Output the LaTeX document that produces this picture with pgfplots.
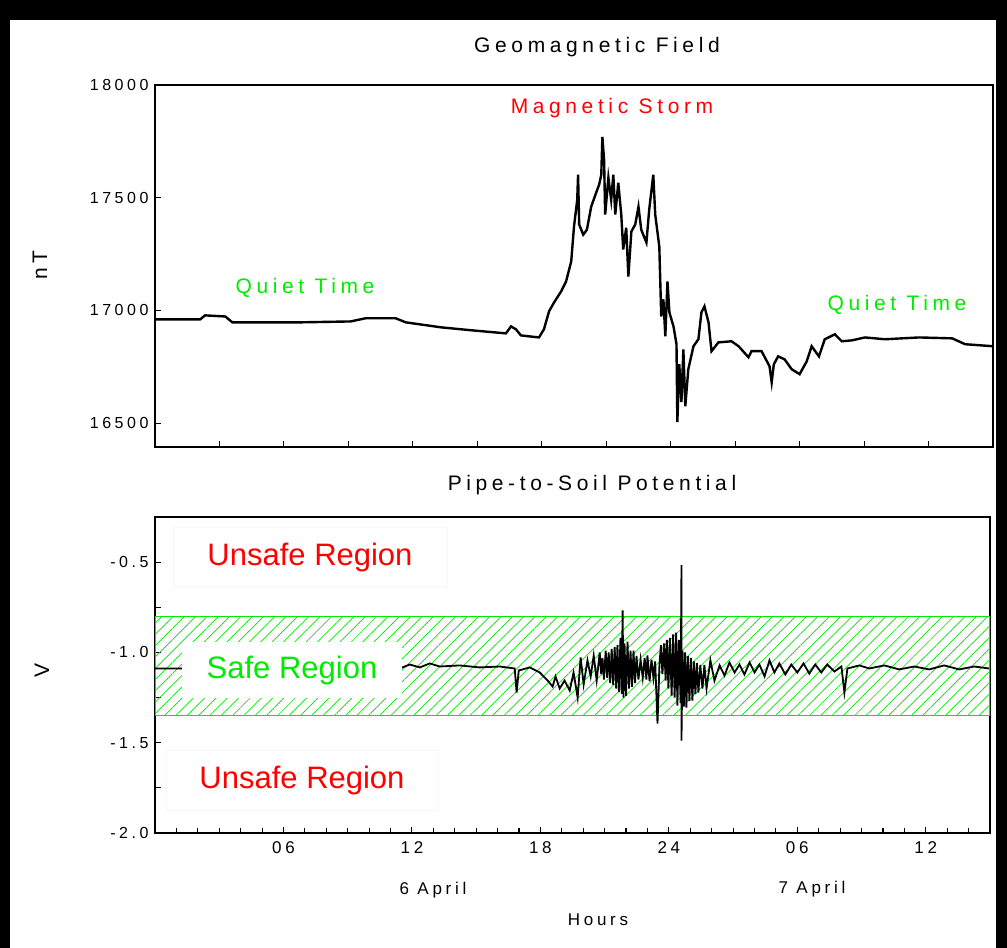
\documentclass[border=0pt]{standalone}
\usepackage{fontspec}
\setmainfont{Liberation Sans}
\newfontfamily\wf{Liberation Sans}[LetterSpace=22]
\usepackage{pgfplots}
\pgfplotsset{compat=1.18}
\usetikzlibrary{patterns.meta}
\definecolor{pgreen}{RGB}{0,235,0}
\definecolor{pred}{RGB}{255,0,0}
\newcommand\tickfont{\fontsize{16}{16}\selectfont\wf}
\newcommand\xtfont{\fontsize{17}{17}\selectfont\wf}
\newcommand\labfont{\fontsize{21}{21}\selectfont\wf}
\newcommand\regfont{\fontsize{31}{31}\selectfont}

\pgfplotstableread{
h nT
0 16960
2.1 16960
2.33 16978
3.27 16973
3.6 16947
6.77 16947
9.1 16951
9.8 16965
11.2 16965
11.67 16947
13.3 16925
14.7 16912
16.33 16898
16.57 16929
16.8 16916
17.03 16889
17.87 16880
18.1 16916
18.34 16996
18.57 17035
18.9 17084
19.13 17128
19.37 17217
19.5 17372
19.65 17491
19.69 17602
19.74 17381
19.93 17336
20.1 17358
20.3 17460
20.53 17522
20.67 17558
20.77 17602
20.82 17770
20.9 17668
20.95 17425
21.1 17589
21.23 17491
21.33 17602
21.42 17425
21.56 17566
21.7 17425
21.79 17270
21.93 17367
22.03 17150
22.17 17350
22.35 17381
22.5 17460
22.63 17358
22.87 17301
23.0 17447
23.19 17602
23.28 17425
23.47 17283
23.56 16973
23.66 17049
23.75 16885
23.85 17128
23.94 16991
24.13 16929
24.27 16850
24.31 16504
24.4 16761
24.5 16593
24.59 16827
24.68 16575
24.82 16739
25.06 16841
25.29 16872
25.43 16991
25.57 17018
25.76 16947
25.9 16819
26.22 16858
26.83 16863
27.16 16841
27.62 16792
27.76 16819
28.23 16819
28.6 16752
28.7 16681
28.8 16761
29.0 16796
29.3 16783
29.63 16739
30.0 16717
30.33 16774
30.56 16841
30.9 16796
31.17 16872
31.64 16894
31.96 16863
32.43 16867
33.04 16880
33.97 16872
35.56 16880
37.1 16876
37.7 16850
39.0 16841
}\geomag

\pgfplotstableread{
h V
0 -1.089
11.43 -1.089
11.9 -1.067
12.37 -1.083
12.83 -1.061
13.3 -1.078
14.23 -1.072
15.17 -1.083
16.1 -1.078
16.8 -1.089
16.89 -1.222
16.99 -1.1
17.5 -1.083
17.97 -1.111
18.34 -1.156
18.57 -1.189
18.71 -1.133
18.9 -1.2
19.13 -1.156
19.37 -1.211
19.55 -1.111
19.74 -1.25
19.88 -1.028
20.02 -1.178
20.2 -1.044
20.35 -1.133
20.49 -1.017
20.63 -1.156
20.77 -1.0
20.84 -1.12
20.9 -1.03
20.97 -1.15
21.05 -0.99
21.12 -1.14
21.19 -1.0
21.26 -1.17
21.33 -0.98
21.40 -1.18
21.47 -0.97
21.54 -1.2
21.6 -0.96
21.67 -1.22
21.74 -0.92
21.80 -1.23
21.84 -0.767
21.88 -1.25
21.93 -0.95
22.0 -1.24
22.07 -0.94
22.14 -1.2
22.21 -0.99
22.28 -1.19
22.35 -0.99
22.42 -1.17
22.49 -1.02
22.58 -1.15
22.68 -1.04
22.78 -1.14
22.87 -1.03
22.95 -1.15
23.0 -1.017
23.1 -1.16
23.19 -1.04
23.28 -1.14
23.36 -1.05
23.47 -1.394
23.56 -1.072
23.63 -0.96
23.7 -1.12
23.78 -0.95
23.85 -1.156
23.91 -0.93
23.98 -1.2
24.05 -0.92
24.13 -1.239
24.2 -0.9
24.27 -1.25
24.34 -0.89
24.4 -1.294
24.47 -0.93
24.55 -1.28
24.59 -0.517
24.59 -1.489
24.64 -0.99
24.7 -1.3
24.76 -1.0
24.82 -1.306
24.89 -1.02
24.96 -1.27
25.03 -1.03
25.1 -1.267
25.17 -1.05
25.24 -1.23
25.31 -1.06
25.38 -1.222
25.47 -1.07
25.57 -1.2
25.66 -1.07
25.76 -1.2
25.94 -1.044
26.13 -1.156
26.37 -1.072
26.6 -1.128
26.83 -1.056
27.07 -1.111
27.3 -1.067
27.53 -1.122
27.77 -1.056
28.0 -1.111
28.23 -1.067
28.47 -1.133
28.7 -1.044
28.93 -1.111
29.16 -1.061
29.44 -1.122
29.72 -1.067
30.0 -1.111
30.29 -1.061
30.56 -1.117
30.84 -1.067
31.12 -1.111
31.4 -1.067
31.73 -1.106
32.06 -1.078
32.2 -1.222
32.34 -1.089
32.9 -1.072
33.36 -1.089
34.06 -1.072
34.76 -1.094
35.46 -1.078
36.16 -1.094
36.86 -1.072
37.56 -1.094
38.26 -1.078
38.96 -1.089
}\pipe

\begin{document}
\begin{tikzpicture}
\fill[black] (0pt,0pt) rectangle (1007pt,948pt);
\fill[white] (10pt,0pt) rectangle (996pt,928pt);

\pgfplotsset{
  every axis/.append style={
    scale only axis,
    axis line style={line width=1.4pt},
    every tick/.style={black, line width=1.1pt},
    tick align=inside,
    xtick pos=bottom, ytick pos=left,
    major tick length=6pt, minor tick length=5pt,
    scaled y ticks=false, scaled x ticks=false,
    yticklabel style={font=\tickfont, xshift=-3pt},
    xticklabel style={font=\xtfont, yshift=-5pt},
  }
}

% ---------- top panel ----------
\begin{axis}[
  at={(155pt,501pt)}, anchor=south west,
  width=838pt, height=362pt,
  xmin=0, xmax=39, ymin=16394, ymax=18000,
  xtick={0,3,...,39}, xticklabels={},
  ytick={16500,17000,17500,18000},
  yticklabels={16500,17000,17500,18000},
]
\addplot[black, line width=2.4pt, line join=miter] table[x=h, y=nT] {\geomag};
\end{axis}

% ---------- bottom panel ----------
\begin{axis}[
  at={(155pt,115pt)}, anchor=south west,
  width=835pt, height=316pt,
  xmin=0, xmax=39, ymin=-2, ymax=-0.25,
  xtick={6,12,18,24,30,36},
  xticklabels={06,12,18,24,06,12},
  minor xtick={0,1,...,39},
  ytick={-2,-1.75,-1.5,-1.25,-1,-0.75,-0.5,-0.25},
  yticklabels={-2.0,{},-1.5,{},-1.0,{},-0.5,{}},
]
\addplot[draw=pgreen, line width=1.6pt,
  pattern={Lines[angle=45,distance=8pt,line width=0.7pt]}, pattern color=pgreen]
  coordinates {(0,-0.8) (39,-0.8) (39,-1.35) (0,-1.35)} -- cycle;
\addplot[black, line width=1.8pt] table[x=h, y=V] {\pipe};
\end{axis}

% region boxes
\node[fill=white, draw=black!3, minimum width=274pt, minimum height=60pt, text=pred, font=\regfont] at (310pt,391pt) {Unsafe Region};
\node[fill=white, draw=none, minimum width=220pt, minimum height=56pt, text=pgreen, font=\regfont] at (292pt,278pt) {Safe Region};
\node[fill=white, draw=black!3, minimum width=272pt, minimum height=60pt, text=pred, font=\regfont] at (302pt,168pt) {Unsafe Region};

% titles and labels
\node[font=\labfont] at (597pt,901pt) {Geomagnetic Field};
\node[font=\labfont] at (592pt,463pt) {Pipe-to-Soil Potential};
\node[font=\labfont, text=pred] at (612pt,840pt) {Magnetic Storm};
\node[font=\labfont, text=pgreen] at (305pt,660pt) {Quiet Time};
\node[font=\labfont, text=pgreen] at (897pt,643pt) {Quiet Time};
\node[font=\labfont, rotate=90] at (40pt,683pt) {nT};
\node[font=\labfont, rotate=90] at (42pt,278pt) {V};
\node[font=\xtfont] at (433pt,58pt) {6 April};
\node[font=\xtfont] at (812pt,59pt) {7 April};
\node[font=\xtfont] at (598pt,28pt) {Hours};
\end{tikzpicture}
\end{document}
